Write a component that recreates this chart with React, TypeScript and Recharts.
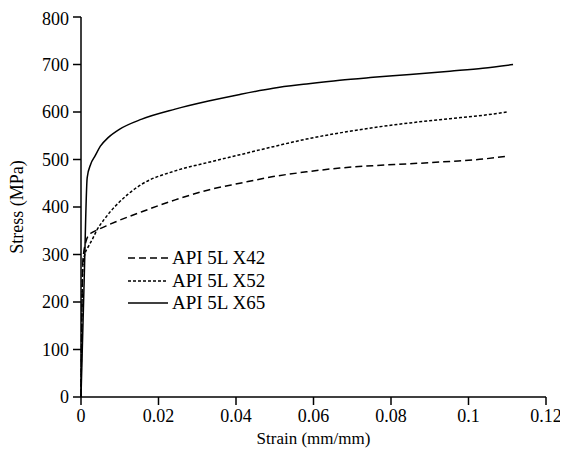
import { LineChart, Line, XAxis, YAxis, Legend } from 'recharts';

const x42Strain = [0, 0.0005, 0.0012, 0.0021, 0.0028, 0.004, 0.007, 0.009, 0.0157, 0.0243, 0.0329, 0.041, 0.0496, 0.0582, 0.0668, 0.0754, 0.0849, 0.0952, 0.1038, 0.1099];
const x42Stress = [0, 288, 325, 342, 346, 351, 362, 369, 390, 415, 436, 450, 464, 474, 482, 487, 491, 496, 501, 507];

const x52Strain = [0, 0.0005, 0.0009, 0.002, 0.003, 0.004, 0.006, 0.009, 0.012, 0.0157, 0.0243, 0.0329, 0.041, 0.0496, 0.0582, 0.0668, 0.0754, 0.0849, 0.0952, 0.1038, 0.1099];
const x52Stress = [0, 280, 298, 318, 333, 350, 374, 403, 426, 448, 476, 494, 510, 527, 543, 556, 567, 577, 586, 593, 600];

const x65Strain = [0, 0.0008, 0.0016, 0.0025, 0.0036, 0.005, 0.007, 0.01, 0.0157, 0.0243, 0.0329, 0.041, 0.0496, 0.0582, 0.0668, 0.0754, 0.0849, 0.0952, 0.1037, 0.1115];
const x65Stress = [0, 240, 462, 490, 507, 528, 546, 564, 585, 606, 623, 637, 650, 659, 667, 673, 679, 686, 692, 700];

const xTicks = [0, 0.02, 0.04, 0.06, 0.08, 0.1, 0.12];
const yTicks = [0, 100, 200, 300, 400, 500, 600, 700, 800];

const zip = (xs: number[], ys: number[]) => xs.map((x, i) => ({ x, y: ys[i] }));

const series = [
  { name: 'API 5L X42', data: zip(x42Strain, x42Stress), dash: '7 4' },
  { name: 'API 5L X52', data: zip(x52Strain, x52Stress), dash: '3 2' },
  { name: 'API 5L X65', data: zip(x65Strain, x65Stress), dash: undefined },
];

const font = '"Liberation Serif", "Times New Roman", serif';
const tickStyle = { fill: '#000', fontSize: 18, fontFamily: font };

function LegendBox() {
  return (
    <div style={{ fontFamily: font, fontSize: 19, color: '#000' }}>
      {series.map((s) => (
        <div key={s.name} style={{ display: 'flex', alignItems: 'center', height: 22.5 }}>
          <svg width={42} height={10} style={{ marginRight: 2 }}>
            <line x1={0} y1={5} x2={40} y2={5} stroke="#000" strokeWidth={1.5} strokeDasharray={s.dash} />
          </svg>
          <span>{s.name}</span>
        </div>
      ))}
    </div>
  );
}

function YTitle(props: any) {
  const vb = props.viewBox;
  const x = vb.x + 15;
  const y = vb.y + vb.height / 2;
  return (
    <text x={x} y={y} transform={`rotate(-90, ${x}, ${y})`} textAnchor="middle" fontSize={18} fontFamily={font} fill="#000">
      Stress (MPa)
    </text>
  );
}

export default function App() {
  return (
    <div style={{ width: 560, height: 445, fontFamily: font }}>
      <LineChart width={560} height={445} margin={{ top: 9, right: 22, left: 0, bottom: 0 }}>
        <XAxis
          dataKey="x"
          type="number"
          domain={[0, 0.12]}
          ticks={xTicks}
          height={56}
          stroke="#000"
          strokeWidth={1.5}
          tickSize={8}
          tickMargin={4}
          tick={tickStyle}
          label={{ value: 'Strain (mm/mm)', position: 'insideBottom', offset: 9, fill: '#000', fontSize: 17, fontFamily: font }}
        />
        <YAxis
          dataKey="y"
          type="number"
          domain={[0, 800]}
          ticks={yTicks}
          width={73}
          stroke="#000"
          strokeWidth={1.5}
          tickSize={8}
          tickMargin={4}
          tick={tickStyle}
          label={{ content: YTitle }}
        />
        <Legend
          layout="horizontal"
          align="center"
          verticalAlign="middle"
          content={() => <LegendBox />}
          wrapperStyle={{ left: 120, top: 239, width: 'auto' }}
        />
        {series.map((s) => (
          <Line
            key={s.name}
            data={s.data}
            dataKey="y"
            name={s.name}
            type="monotone"
            stroke="#000"
            strokeWidth={1.5}
            strokeDasharray={s.dash}
            dot={false}
            isAnimationActive={false}
          />
        ))}
      </LineChart>
    </div>
  );
}
